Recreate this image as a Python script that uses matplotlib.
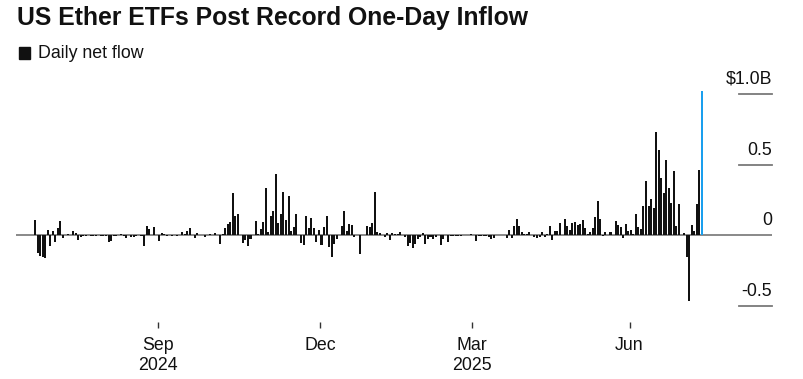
import numpy as np
import matplotlib.pyplot as plt
from matplotlib.patches import Rectangle
from matplotlib.transforms import blended_transform_factory, offset_copy

plt.rcParams['font.family'] = ['Liberation Sans', 'DejaVu Sans']

# ── Daily net flow, $B, one value per trading day ──
jul24 = [0.107, -0.125, -0.145, -0.152, -0.16, 0.04, -0.075]
aug24 = [0.033, -0.047, 0.05, 0.105, -0.016, 0.003, 0.01, 0.006, 0.03, 0.02, -0.03,
         -0.008, -0.006, -0.003, 0.004, -0.005, -0.003, -0.004, 0.005, -0.004, -0.004, -0.005]
sep24 = [-0.045, -0.038, -0.002, -0.006, 0.005, 0.014, -0.004, -0.018, 0.003, -0.008,
         -0.012, -0.004, 0.004, -0.006, -0.075, 0.068, 0.047, 0.003, 0.06, 0.003]
oct24 = [-0.042, 0.02, 0.012, -0.003, 0.006, -0.002, 0.003, -0.004, 0.004, 0.023, 0.01,
         0.03, 0.054, 0.004, -0.016, 0.02, 0.003, 0.004, -0.012, 0.003, 0.014, 0.005, 0.02]
nov24 = [0.006, -0.058, 0.008, 0.054, 0.083, 0.094, 0.30, 0.14, 0.155, 0.005, -0.052,
         -0.03, -0.075, -0.023, 0.004, 0.1, 0.01, 0.047, 0.096, 0.338]
dec24 = [0.028, 0.139, 0.174, 0.437, 0.089, 0.155, 0.31, 0.108, 0.28, 0.03, 0.058, 0.15,
         0.005, -0.052, -0.066, 0.136, 0.054, 0.122, 0.054, -0.047, 0.04]
jan25 = [-0.07, 0.063, 0.134, -0.08, -0.15, -0.061, -0.028, 0.005, 0.066, 0.174, 0.03,
         0.082, 0.077, -0.01, 0.003, -0.13, 0.004, 0.003, 0.07, 0.06]
feb25 = [0.089, 0.31, 0.023, 0.019, 0.003, -0.012, 0.019, -0.033, 0.019, 0.012, 0.01,
         0.028, 0.004, -0.012, -0.075, -0.052, -0.087, -0.063, -0.028]
mar25 = [-0.008, 0.019, -0.059, -0.023, -0.012, -0.028, -0.01, 0.004, -0.068, -0.028,
         0.003, -0.047, -0.005, -0.004, -0.003, -0.002, -0.004, 0.003, 0.002, 0.004, 0.012]
apr25 = [0.003, -0.04, -0.005, -0.004, -0.003, -0.005, -0.008, -0.028, -0.015, 0.003,
         0.002, 0.004, 0.0, -0.016, 0.042, -0.016, 0.07, 0.113, 0.07, 0.026, 0.012]
may25 = [0.012, 0.028, 0.004, -0.01, -0.016, -0.008, 0.023, -0.01, 0.01, 0.07, -0.033,
         0.03, 0.03, 0.088, 0.006, 0.115, 0.068, 0.04, 0.09, 0.093, 0.075]
jun25 = [0.08, 0.108, 0.056, 0.014, 0.026, 0.05, 0.127, 0.242, 0.113, -0.006, 0.024,
         0.005, 0.024, 0.004, 0.104, 0.075, 0.061, -0.019, 0.08, 0.035]
jul25 = [0.041, 0.008, 0.149, 0.062, 0.047, 0.211, 0.383, 0.205, 0.259, 0.192, 0.727,
         0.602, 0.403, 0.297, 0.534, 0.332, 0.231, 0.453, 0.065, 0.219, 0.006, 0.017]
aug25 = [-0.152, -0.465, 0.073, 0.035, 0.222, 0.461, 1.019]

months = [jul24, aug24, sep24, oct24, nov24, dec24, jan25,
          feb25, mar25, apr25, may25, jun25, jul25, aug25]

# ticks sit at the end of these months (index into months)
tick_months = [2, 5, 8, 11]
tick_labels = ["Sep\n2024", "Dec", "Mar\n2025", "Jun"]

yticks  = [1.0, 0.5, 0.0, -0.5]
ylabels = ["$1.0B", "0.5", "0", "-0.5"]

flows  = np.concatenate(months)
x      = np.arange(len(flows))
starts = np.cumsum([0] + [len(m) for m in months])
colors = ["#111111"] * (len(flows) - 1) + ["#1a9fee"]

# ── Figure ────────────────────────────────────
fig = plt.figure(figsize=(8.04, 3.79), dpi=100)
ax = fig.add_axes([16 / 804, 57 / 379, 756 / 804, 234 / 379])

ax.bar(x, flows, width=0.8, color=colors, linewidth=0, zorder=3)
ax.axhline(0, color="#808080", linewidth=1.3, zorder=2)

ax.set_xlim(-7.5, 290.7)
ax.set_ylim(-0.61, 1.04)
for s in ax.spines.values():
    s.set_visible(False)
ax.set_yticks([])

# short gridlines + labels on the right
trans = blended_transform_factory(ax.transAxes, ax.transData)
lab_trans = offset_copy(trans, fig=fig, y=7.2, units="points")
for v, lab in zip(yticks, ylabels):
    if v != 0:
        ax.plot([0.956, 1.0], [v, v], transform=trans, color="#7a7a7a",
                linewidth=1.3, clip_on=False)
    ax.text(1.0, v, lab, transform=lab_trans, ha="right", va="baseline",
            fontsize=12.8, color="#111111")

ax.set_xticks([starts[m + 1] - 0.5 for m in tick_months])
ax.set_xticklabels(tick_labels)
ax.tick_params(axis="x", length=4.5, width=1, color="#333333", pad=6,
               labelsize=12.8, labelcolor="#111111")
for t in ax.get_xticklabels():
    t.set_linespacing(1.3)

# ── Title and legend ──
fig.text(17 / 804, 1 - 18 / 379, "US Ether ETFs Post Record One-Day Inflow",
         fontsize=17.8, fontweight="bold", va="center", color="#111111")
fig.patches.append(Rectangle((19 / 804, 1 - 59 / 379), 11 / 804, 12 / 379,
                             transform=fig.transFigure, color="#111111"))
fig.text(38 / 804, 1 - 53 / 379, "Daily net flow", fontsize=12.8,
         va="center", color="#111111")

fig.savefig("out.png", dpi=100)
